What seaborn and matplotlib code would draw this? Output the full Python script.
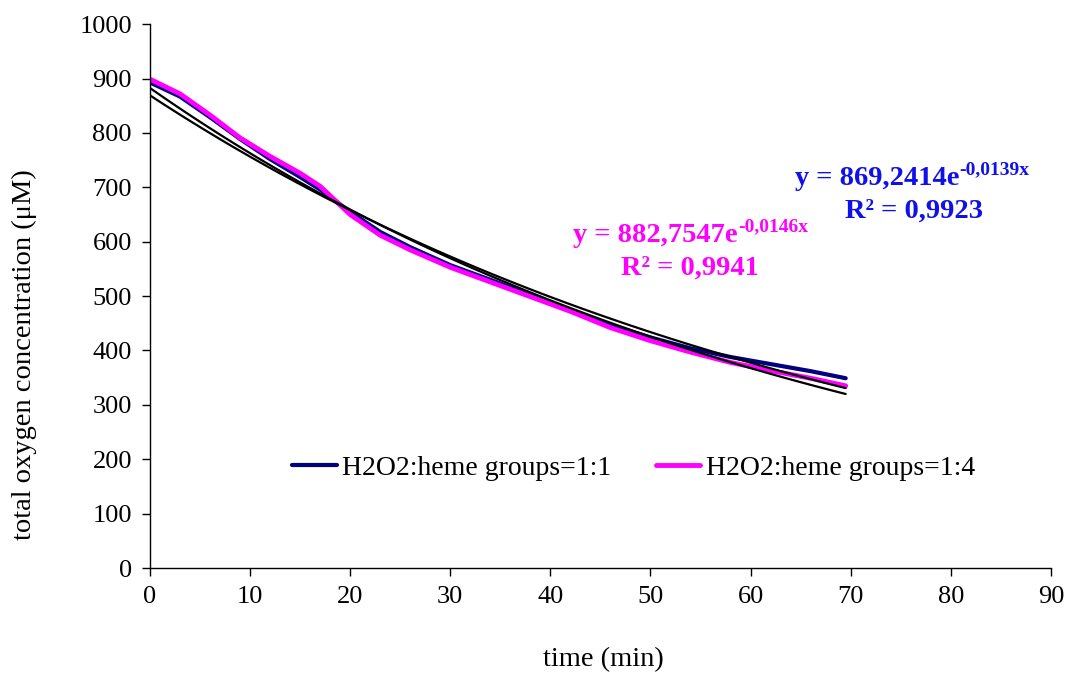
import numpy as np
import pandas as pd
import matplotlib
matplotlib.use("Agg")
import matplotlib.pyplot as plt
import seaborn as sns

time_min = [0, 3, 6, 9, 12, 15, 17, 20, 23, 26, 30, 34, 38, 42, 46, 50, 54, 58, 62, 66, 69.5]
oxygen_1_1 = [893, 867, 829, 789, 752, 719, 696, 655, 618, 590, 557, 530, 503, 475, 447, 424, 404, 388, 375, 362, 349]
oxygen_1_4 = [899, 872, 833, 791, 757, 726, 702, 650, 612, 585, 553, 526, 499, 472, 442, 418, 397, 378, 363, 349, 335]

# exponential trendlines shown on the chart: y = a * exp(b * x)
fit_1_1 = (869.2414, -0.0139)
fit_1_4 = (882.7547, -0.0146)
eq_1_1 = ("y = 869,2414e", "-0,0139x", "R\u00b2 = 0,9923")
eq_1_4 = ("y = 882,7547e", "-0,0146x", "R\u00b2 = 0,9941")

labels = ["H2O2:heme groups=1:1", "H2O2:heme groups=1:4"]
colors = ["#000080", "#FF00FF"]
eq_colors = ["#1010E8", "#FF00FF"]


def add_equation(ax, x, y, parts, color, r2_xy):
    main = ax.text(x, y, parts[0], color=color, fontsize=20.5, fontweight="bold",
                   ha="left", va="baseline")
    ax.annotate(parts[1], xy=(1, 1), xycoords=main, xytext=(0, -6),
                textcoords="offset points", color=color, fontsize=14,
                fontweight="bold", ha="left", va="baseline")
    ax.text(r2_xy[0], r2_xy[1], parts[2], color=color, fontsize=20.5,
            fontweight="bold", ha="left", va="baseline")


def main():
    sns.set_theme(style="ticks")
    plt.rcParams["font.family"] = ["Liberation Serif", "DejaVu Serif"]
    plt.rcParams["text.color"] = "black"

    fig = plt.figure(figsize=(10.68, 6.73), dpi=100)
    ax = fig.add_axes([0.1404, 0.156, 0.8436, 0.808])

    df = pd.DataFrame({"time": time_min * 2,
                       "oxygen": oxygen_1_1 + oxygen_1_4,
                       "ratio": [labels[0]] * len(time_min) + [labels[1]] * len(time_min)})

    sns.lineplot(data=df[df["ratio"] == labels[0]], x="time", y="oxygen",
                 color=colors[0], linewidth=3.0, label=labels[0], ax=ax)
    sns.lineplot(data=df[df["ratio"] == labels[1]], x="time", y="oxygen",
                 color=colors[1], linewidth=3.5, label=labels[1], ax=ax)

    t_fit = np.linspace(time_min[0], time_min[-1], 120)
    for a, b in (fit_1_1, fit_1_4):
        sns.lineplot(x=t_fit, y=a * np.exp(b * t_fit), color="black",
                     linewidth=1.6, ax=ax)

    add_equation(ax, 64.4, 704, eq_1_1, eq_colors[0], (69.4, 645))
    add_equation(ax, 42.3, 599, eq_1_4, eq_colors[1], (47.1, 540))

    ax.set_xlim(0, 90)
    ax.set_ylim(0, 1000)
    ax.set_xticks(range(0, 91, 10))
    ax.set_yticks(range(0, 1001, 100))
    ax.tick_params(direction="out", length=6, width=1, color="black",
                   labelsize=19, labelcolor="black", pad=7)
    for side in ("left", "bottom"):
        ax.spines[side].set_color("black")
        ax.spines[side].set_linewidth(1)
    sns.despine(ax=ax)

    ax.set_xlabel("time (min)", fontsize=20.5, color="black")
    ax.set_ylabel("total oxygen concentration (\u03bcM)", fontsize=20.5, color="black")
    ax.xaxis.set_label_coords(0.503, -0.145)
    ax.yaxis.set_label_coords(-0.125, 0.393)

    handles, _ = ax.get_legend_handles_labels()
    ax.legend(handles[:2], labels, ncol=2, frameon=False, loc="center",
              bbox_to_anchor=(0.537, 0.184), fontsize=20, labelcolor="black",
              handlelength=1.6, handletextpad=0.2, columnspacing=1.6)

    fig.savefig("out.png", dpi=100)
    plt.close(fig)


if __name__ == "__main__":
    main()
